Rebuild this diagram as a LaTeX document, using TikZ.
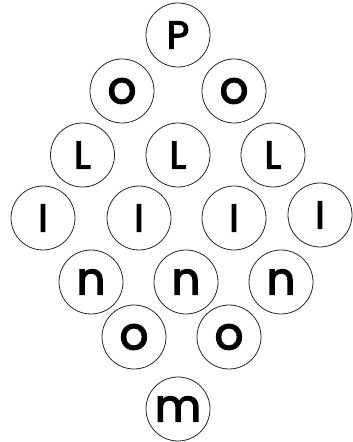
\documentclass[tikz,border=0pt]{standalone}
\usepackage{fontspec}
\setmainfont{Poppins}
\newfontfamily\ballfont{Poppins}[FakeBold=3]
\begin{document}
\begin{tikzpicture}[x=1pt,y=1pt,
  ball/.style={draw=black!85,line width=0.8pt,circle,minimum size=64pt,inner sep=0pt},
  capl/.style={font=\ballfont\fontsize{39}{39}\selectfont},
  lowl/.style={font=\ballfont\fontsize{45}{45}\selectfont}]
\useasboundingbox (0,0) rectangle (353,442);
\node[ball,capl] (p)  at (178,442-35) {P};
\node[ball,lowl] (o1) at (122,442-91) {o};
\node[ball,lowl] (o2) at (234,442-91) {o};
\node[ball,capl] (l1) at (82.5,442-155) {L};
\node[ball,capl] (l2) at (178,442-155) {L};
\node[ball,capl] (l3) at (273,442-155) {L};
\node[ball,capl] (i1) at (43,442-218) {I};
\node[ball,capl] (i2) at (139,442-218) {I};
\node[ball,capl] (i3) at (234,442-218) {I};
\node[ball,capl] (i4) at (320,442-215) {I};
\node[ball,lowl] (n1) at (91,442-282) {n};
\node[ball,lowl] (n2) at (186,442-282) {n};
\node[ball,lowl] (n3) at (281,442-282) {n};
\node[ball,lowl] (o3) at (134,442-337) {o};
\node[ball,lowl] (o4) at (229,442-337) {o};
\node[ball,lowl] (m)  at (178,442-409) {m};
\end{tikzpicture}
\end{document}
